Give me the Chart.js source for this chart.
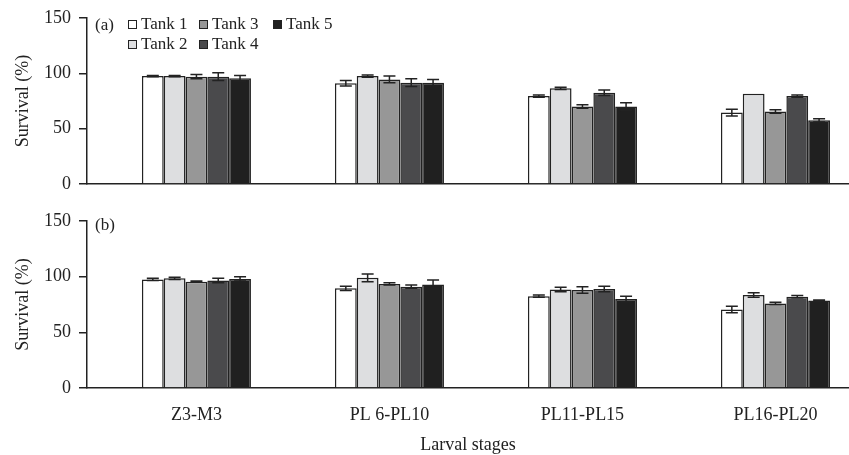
<!DOCTYPE html>
<html lang="en">
<head>
  <meta charset="UTF-8" />
  <title>Larval survival by tank</title>
  <script src="https://cdn.jsdelivr.net/npm/chart.js"></script>
  <style>
    body { margin: 0; background: #fff; font-family: 'Liberation Serif', 'DejaVu Serif', serif; color: #222; }
    .wrap { position: relative; width: 849px; height: 455px; }
    .panel { position: absolute; left: 0; width: 849px; }
    #panelA { top: 0; height: 200px; }
    #panelB { top: 200px; height: 255px; }
    .tag { position: absolute; left: 95px; font-size: 17px; line-height: 20px; }
    .legend {
      position: absolute; left: 128px; top: 14px;
      display: grid; grid-template-rows: 20px 20px; grid-auto-flow: column;
      grid-template-columns: 71px 74px auto;
      font-size: 17px; line-height: 20px;
    }
    .legend span { display: flex; align-items: center; white-space: nowrap; }
    .legend i { display: inline-block; width: 7px; height: 7px; border: 1.5px solid #222; margin-right: 4px; }
  </style>
</head>
<body>
<div class="wrap">
  <div class="panel" id="panelA">
    <canvas id="chartA" width="849" height="200"></canvas>
    <div class="tag" style="top:15px">(a)</div>
    <div class="legend" id="legend"></div>
  </div>
  <div class="panel" id="panelB">
    <canvas id="chartB" width="849" height="255"></canvas>
    <div class="tag" style="top:15px">(b)</div>
  </div>
</div>

<script>
const stages = ['Z3-M3', 'PL 6-PL10', 'PL11-PL15', 'PL16-PL20'];
const tanks = ['Tank 1', 'Tank 2', 'Tank 3', 'Tank 4', 'Tank 5'];
const tankColors = ['#ffffff', '#dddee0', '#979797', '#4a4a4c', '#202020'];
const yTicks = [0, 50, 100, 150];

// panel (a)
const tank1A = [97.5, 91, 79.5, 64.5];
const tank2A = [97.5, 97.5, 86.5, 81.5];
const tank3A = [97, 94.5, 70, 65.5];
const tank4A = [97, 91.5, 82.5, 79.5];
const tank5A = [95.5, 91.5, 70, 57.5];
const err1A = [0.5, 2.5, 1, 3];
const err2A = [0.5, 1, 1, 0];
const err3A = [2, 3, 1.5, 1.5];
const err4A = [3.5, 3.5, 2.5, 1];
const err5A = [2.5, 3, 3.5, 1.5];

// panel (b)
const tank1B = [97.5, 89.5, 82.5, 70.5];
const tank2B = [98.5, 99, 88.5, 83.5];
const tank3B = [95.5, 93.5, 88, 76];
const tank4B = [96.5, 91, 89, 82];
const tank5B = [98, 93, 80, 78.5];
const err1B = [1, 2, 1, 3];
const err2B = [1, 3.5, 2, 2];
const err3B = [0.5, 1, 3, 1];
const err4B = [2, 1.5, 2.5, 1];
const err5B = [2, 4, 2.5, 0.5];

// legend, column-major in two rows
const legend = document.getElementById('legend');
tanks.forEach((t, i) => {
  const s = document.createElement('span');
  s.innerHTML = `<i style="background:${tankColors[i]}"></i>${t}`;
  legend.appendChild(s);
});

const errorBars = {
  id: 'errorBars',
  afterDatasetsDraw(chart) {
    const ctx = chart.ctx, y = chart.scales.y;
    chart.data.datasets.forEach((ds, i) => {
      chart.getDatasetMeta(i).data.forEach((bar, j) => {
        const v = ds.data[j].y, e = ds.errors[j];
        if (!e) return;
        const top = y.getPixelForValue(v + e), bot = y.getPixelForValue(v - e);
        ctx.save();
        ctx.strokeStyle = '#222';
        ctx.lineWidth = 1.5;
        ctx.beginPath();
        ctx.moveTo(bar.x, top); ctx.lineTo(bar.x, bot);
        ctx.moveTo(bar.x - 6, top); ctx.lineTo(bar.x + 6, top);
        ctx.moveTo(bar.x - 6, bot); ctx.lineTo(bar.x + 6, bot);
        ctx.stroke();
        ctx.restore();
      });
    });
  }
};

const serif = "'Liberation Serif', 'DejaVu Serif', serif";

function makeChart(id, series, errors, bottom) {
  return new Chart(document.getElementById(id), {
    type: 'bar',
    data: {
      datasets: series.map((vals, i) => ({
        label: tanks[i],
        data: vals.map((v, k) => ({ x: k, y: v })),
        errors: errors[i],
        backgroundColor: tankColors[i],
        borderColor: '#222',
        borderWidth: 1.5,
        categoryPercentage: 0.565,
        barPercentage: 1
      }))
    },
    plugins: [errorBars],
    options: {
      responsive: false,
      animation: false,
      layout: { padding: { top: bottom ? 21 : 18, left: 0, right: 0, bottom: 0 } },
      plugins: { legend: { display: false }, tooltip: { enabled: false } },
      scales: {
        x: {
          type: 'linear',
          min: -0.567,
          max: 3.381,
          offset: false,
          bounds: 'data',
          afterBuildTicks: s => { s.ticks = stages.map((_, k) => ({ value: k })); },
          afterFit: s => { s.height = bottom ? 67 : 16; s.paddingLeft = 0; s.paddingRight = 0; },
          grid: { display: false, drawTicks: false, offset: false },
          border: { display: true, color: '#222', width: 1.5 },
          ticks: {
            display: bottom,
            autoSkip: false,
            maxRotation: 0,
            padding: 16,
            color: '#222',
            font: { family: serif, size: 18 },
            callback: v => stages[v]
          },
          title: {
            display: bottom,
            text: 'Larval stages',
            color: '#222',
            font: { family: serif, size: 18, lineHeight: 1.1 },
            padding: { top: 0, bottom: 0 }
          }
        },
        y: {
          min: 0,
          max: 150,
          afterBuildTicks: s => { s.ticks = yTicks.map(v => ({ value: v })); },
          afterFit: s => { s.width = 87; s.paddingTop = 0; s.paddingBottom = 0; },
          grid: { drawOnChartArea: false, drawTicks: true, tickLength: 8, color: '#222', lineWidth: 1.5 },
          border: { display: true, color: '#222', width: 1.5 },
          ticks: { padding: 8, color: '#222', font: { family: serif, size: 18 } },
          title: {
            display: true,
            text: 'Survival (%)',
            color: '#222',
            font: { family: serif, size: 18 },
            padding: { top: 12, bottom: 0 }
          }
        }
      }
    }
  });
}

makeChart('chartA',
  [tank1A, tank2A, tank3A, tank4A, tank5A],
  [err1A, err2A, err3A, err4A, err5A], false);
makeChart('chartB',
  [tank1B, tank2B, tank3B, tank4B, tank5B],
  [err1B, err2B, err3B, err4B, err5B], true);
</script>
</body>
</html>
